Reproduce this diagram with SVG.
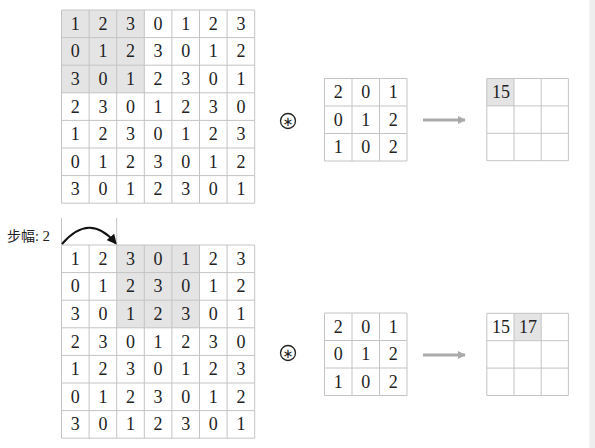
<svg xmlns="http://www.w3.org/2000/svg" width="595" height="448" viewBox="0 0 595 448">
<defs>
<style>
.g{fill:none;stroke:#c4c4c4;stroke-width:1}
.hl{fill:#e4e4e4}
.n{font-family:"Liberation Serif","DejaVu Serif",serif;font-size:18px;fill:#222;text-anchor:middle}
.lbl{font-family:"Liberation Serif","Noto Sans CJK SC",serif;font-size:14px;fill:#222}
.op{fill:none;stroke:#222;stroke-width:1.3}
.opt{font-family:"DejaVu Sans",sans-serif;font-size:13px;fill:#222;text-anchor:middle}
.ga{stroke:#aaaaaa;stroke-width:3;fill:none}
</style>
<marker id="blk" viewBox="0 0 10 10" refX="8" refY="5" markerWidth="5" markerHeight="5" orient="auto" markerUnits="strokeWidth">
<path d="M0,0 L10,5 L0,10 Z" fill="#111"/>
</marker>
<marker id="gry" viewBox="0 0 10 10" refX="9" refY="5" markerWidth="3" markerHeight="2.6" orient="auto" markerUnits="strokeWidth">
<path d="M0,0 L10,5 L0,10 Z" fill="#aaaaaa"/>
</marker>
</defs>
<rect x="0" y="0" width="595" height="448" fill="#fff"/>
<rect x="589.5" y="0" width="5.5" height="448" fill="#eeeeee"/>

<g id="input-top">
<rect class="hl" x="61.5" y="10" width="82.8" height="82.8"/>
<path class="g" d="M61.5,10V203.2M89.1,10V203.2M116.7,10V203.2M144.3,10V203.2M171.9,10V203.2M199.5,10V203.2M227.1,10V203.2M254.7,10V203.2M61.5,10H254.7M61.5,37.6H254.7M61.5,65.2H254.7M61.5,92.8H254.7M61.5,120.4H254.7M61.5,148H254.7M61.5,175.6H254.7M61.5,203.2H254.7"/>
<g class="n">
<text x="75.3" y="29.8">1</text><text x="102.9" y="29.8">2</text><text x="130.5" y="29.8">3</text><text x="158.1" y="29.8">0</text><text x="185.7" y="29.8">1</text><text x="213.3" y="29.8">2</text><text x="240.9" y="29.8">3</text>
<text x="75.3" y="57.4">0</text><text x="102.9" y="57.4">1</text><text x="130.5" y="57.4">2</text><text x="158.1" y="57.4">3</text><text x="185.7" y="57.4">0</text><text x="213.3" y="57.4">1</text><text x="240.9" y="57.4">2</text>
<text x="75.3" y="85">3</text><text x="102.9" y="85">0</text><text x="130.5" y="85">1</text><text x="158.1" y="85">2</text><text x="185.7" y="85">3</text><text x="213.3" y="85">0</text><text x="240.9" y="85">1</text>
<text x="75.3" y="112.6">2</text><text x="102.9" y="112.6">3</text><text x="130.5" y="112.6">0</text><text x="158.1" y="112.6">1</text><text x="185.7" y="112.6">2</text><text x="213.3" y="112.6">3</text><text x="240.9" y="112.6">0</text>
<text x="75.3" y="140.2">1</text><text x="102.9" y="140.2">2</text><text x="130.5" y="140.2">3</text><text x="158.1" y="140.2">0</text><text x="185.7" y="140.2">1</text><text x="213.3" y="140.2">2</text><text x="240.9" y="140.2">3</text>
<text x="75.3" y="167.8">0</text><text x="102.9" y="167.8">1</text><text x="130.5" y="167.8">2</text><text x="158.1" y="167.8">3</text><text x="185.7" y="167.8">0</text><text x="213.3" y="167.8">1</text><text x="240.9" y="167.8">2</text>
<text x="75.3" y="195.4">3</text><text x="102.9" y="195.4">0</text><text x="130.5" y="195.4">1</text><text x="158.1" y="195.4">2</text><text x="185.7" y="195.4">3</text><text x="213.3" y="195.4">0</text><text x="240.9" y="195.4">1</text>
</g>
</g>

<g id="op-top">
<circle class="op" cx="288" cy="121" r="7.5"/>
<text class="opt" x="288" y="125.5">∗</text>
</g>

<g id="kernel-top">
<path class="g" d="M324.5,78.5V161M352,78.5V161M379.5,78.5V161M407,78.5V161M324.5,78.5H407M324.5,106H407M324.5,133.5H407M324.5,161H407"/>
<g class="n">
<text x="338.25" y="98.2">2</text><text x="365.75" y="98.2">0</text><text x="393.25" y="98.2">1</text>
<text x="338.25" y="125.7">0</text><text x="365.75" y="125.7">1</text><text x="393.25" y="125.7">2</text>
<text x="338.25" y="153.2">1</text><text x="365.75" y="153.2">0</text><text x="393.25" y="153.2">2</text>
</g>
</g>

<g id="output-top">
<rect class="hl" x="486.8" y="78.5" width="27.2" height="27.4"/>
<path class="g" d="M486.8,78.5V160.7M514,78.5V160.7M541.2,78.5V160.7M568.4,78.5V160.7M486.8,78.5H568.4M486.8,105.9H568.4M486.8,133.3H568.4M486.8,160.7H568.4"/>
<text class="n" x="501" y="98.2">15</text>
</g>

<g id="stride-label">
<text class="lbl" x="7" y="241">步幅: <tspan font-size="15">2</tspan></text>
</g>

<g id="input-bottom">
<rect class="hl" x="116.7" y="245" width="82.8" height="82.8"/>
<path class="g" d="M61.5,218V245M116.7,218V245"/>
<path class="g" d="M61.5,245V438.2M89.1,245V438.2M116.7,245V438.2M144.3,245V438.2M171.9,245V438.2M199.5,245V438.2M227.1,245V438.2M254.7,245V438.2M61.5,245H254.7M61.5,272.6H254.7M61.5,300.2H254.7M61.5,327.8H254.7M61.5,355.4H254.7M61.5,383H254.7M61.5,410.6H254.7M61.5,438.2H254.7"/>
<g class="n">
<text x="75.3" y="264.8">1</text><text x="102.9" y="264.8">2</text><text x="130.5" y="264.8">3</text><text x="158.1" y="264.8">0</text><text x="185.7" y="264.8">1</text><text x="213.3" y="264.8">2</text><text x="240.9" y="264.8">3</text>
<text x="75.3" y="292.4">0</text><text x="102.9" y="292.4">1</text><text x="130.5" y="292.4">2</text><text x="158.1" y="292.4">3</text><text x="185.7" y="292.4">0</text><text x="213.3" y="292.4">1</text><text x="240.9" y="292.4">2</text>
<text x="75.3" y="320">3</text><text x="102.9" y="320">0</text><text x="130.5" y="320">1</text><text x="158.1" y="320">2</text><text x="185.7" y="320">3</text><text x="213.3" y="320">0</text><text x="240.9" y="320">1</text>
<text x="75.3" y="347.6">2</text><text x="102.9" y="347.6">3</text><text x="130.5" y="347.6">0</text><text x="158.1" y="347.6">1</text><text x="185.7" y="347.6">2</text><text x="213.3" y="347.6">3</text><text x="240.9" y="347.6">0</text>
<text x="75.3" y="375.2">1</text><text x="102.9" y="375.2">2</text><text x="130.5" y="375.2">3</text><text x="158.1" y="375.2">0</text><text x="185.7" y="375.2">1</text><text x="213.3" y="375.2">2</text><text x="240.9" y="375.2">3</text>
<text x="75.3" y="402.8">0</text><text x="102.9" y="402.8">1</text><text x="130.5" y="402.8">2</text><text x="158.1" y="402.8">3</text><text x="185.7" y="402.8">0</text><text x="213.3" y="402.8">1</text><text x="240.9" y="402.8">2</text>
<text x="75.3" y="430.4">3</text><text x="102.9" y="430.4">0</text><text x="130.5" y="430.4">1</text><text x="158.1" y="430.4">2</text><text x="185.7" y="430.4">3</text><text x="213.3" y="430.4">0</text><text x="240.9" y="430.4">1</text>
</g>
</g>

<g id="op-bottom">
<circle class="op" cx="288" cy="353" r="7.5"/>
<text class="opt" x="288" y="357.5">∗</text>
</g>

<g id="kernel-bottom">
<path class="g" d="M324.5,313V395.5M352,313V395.5M379.5,313V395.5M407,313V395.5M324.5,313H407M324.5,340.5H407M324.5,368H407M324.5,395.5H407"/>
<g class="n">
<text x="338.25" y="332.7">2</text><text x="365.75" y="332.7">0</text><text x="393.25" y="332.7">1</text>
<text x="338.25" y="360.2">0</text><text x="365.75" y="360.2">1</text><text x="393.25" y="360.2">2</text>
<text x="338.25" y="387.7">1</text><text x="365.75" y="387.7">0</text><text x="393.25" y="387.7">2</text>
</g>
</g>

<g id="output-bottom">
<rect class="hl" x="514" y="313.3" width="27.2" height="27.4"/>
<path class="g" d="M486.8,313.3V395.5M514,313.3V395.5M541.2,313.3V395.5M568.4,313.3V395.5M486.8,313.3H568.4M486.8,340.7H568.4M486.8,368.1H568.4M486.8,395.5H568.4"/>
<text class="n" x="501" y="333">15</text>
<text class="n" x="528" y="333">17</text>
</g>

<g id="connectors">
<path d="M62,244 Q89.5,212 115.5,243" fill="none" stroke="#111" stroke-width="2" marker-end="url(#blk)"/>
<path class="ga" d="M423,120H465" marker-end="url(#gry)"/>
<path class="ga" d="M423,355H465" marker-end="url(#gry)"/>
</g>
</svg>
